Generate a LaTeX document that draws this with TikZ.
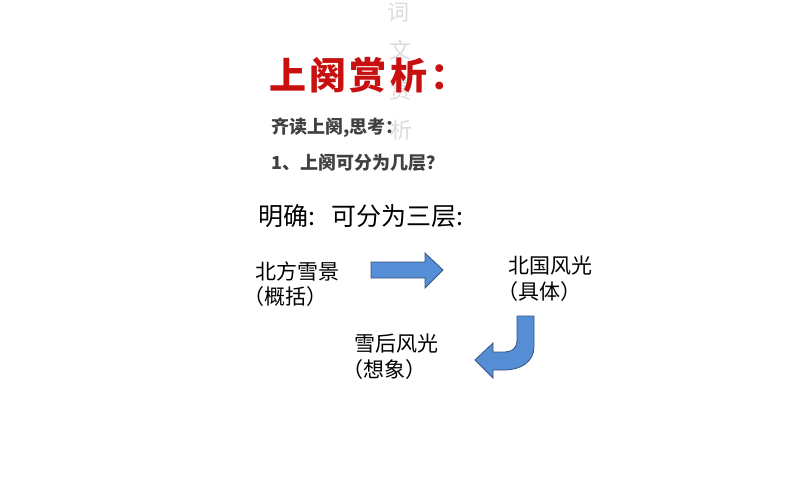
\documentclass[tikz,border=0pt]{standalone}
\usepackage{fontspec}
\setmainfont{Noto Sans CJK SC}
\usepackage{xcolor}
\usetikzlibrary{positioning}

\definecolor{titlered}{RGB}{200,16,16}
\definecolor{darktext}{RGB}{64,64,64}
\definecolor{arrowfill}{RGB}{86,142,214}
\definecolor{arrowline}{RGB}{52,84,130}

\begin{document}
\begin{tikzpicture}[x=1pt, y=-1pt,
    txt/.style={anchor=west, inner sep=0pt, font=\fontsize{21}{21}\selectfont},
    ask/.style={anchor=west, inner sep=0pt, text=darktext, font=\fontsize{18}{18}\selectfont\bfseries},
    watermark/.style={inner sep=0pt, text=black!14, font=\fontsize{22}{22}\selectfont},
    blockarrow/.style={fill=arrowfill, draw=arrowline, line width=0.8pt, line join=miter}]
        \useasboundingbox (0, 0) rectangle (794, 496);

        % watermark
        \node[watermark] (w1) at (398, 12) {词};
        \node[watermark] (w2) at (400, 50) {文};
        \node[watermark] (w3) at (400, 90) {赏};
        \node[watermark] (w4) at (401, 130) {析};

        \node[anchor=west, inner sep=0pt, text=titlered, font=\fontsize{37}{37}\selectfont\bfseries\addfontfeatures{LetterSpace=9}] (title) at (269, 75) {上阕赏析：};
        \node[ask] (q0) at (271, 128) {齐读上阕,思考：};
        \node[ask] (q1) at (271, 163) {1、上阕可分为几层？};
        \node[txt, font=\fontsize{25}{25}\selectfont] (ans) at (258, 216) {明确:\ \ \ 可分为三层:};

        \node[txt] (l1) at (255, 271) {北方雪景};
        \node[txt] (l1b) at (243, 297) {（概括）};
        \node[txt] (l2) at (508, 266) {北国风光};
        \node[txt] (l2b) at (497, 292) {（具体）};
        \node[txt] (l3) at (354, 344) {雪后风光};
        \node[txt] (l3b) at (342, 370) {（想象）};

        \draw[blockarrow] (371, 262) -- (425, 262) -- (425, 253) -- (443, 270)
            -- (425, 288) -- (425, 278) -- (371, 278) -- cycle;
        \draw[blockarrow] (517, 316) -- (534, 316) -- (534, 347)
            .. controls (534, 362) and (520, 370) .. (505, 370) -- (493, 370)
            -- (493, 378) -- (475, 360) -- (493, 343) -- (493, 352) -- (505, 352)
            .. controls (512, 352) and (517, 348) .. (517, 340) -- cycle;
    \end{tikzpicture}
\end{document}
